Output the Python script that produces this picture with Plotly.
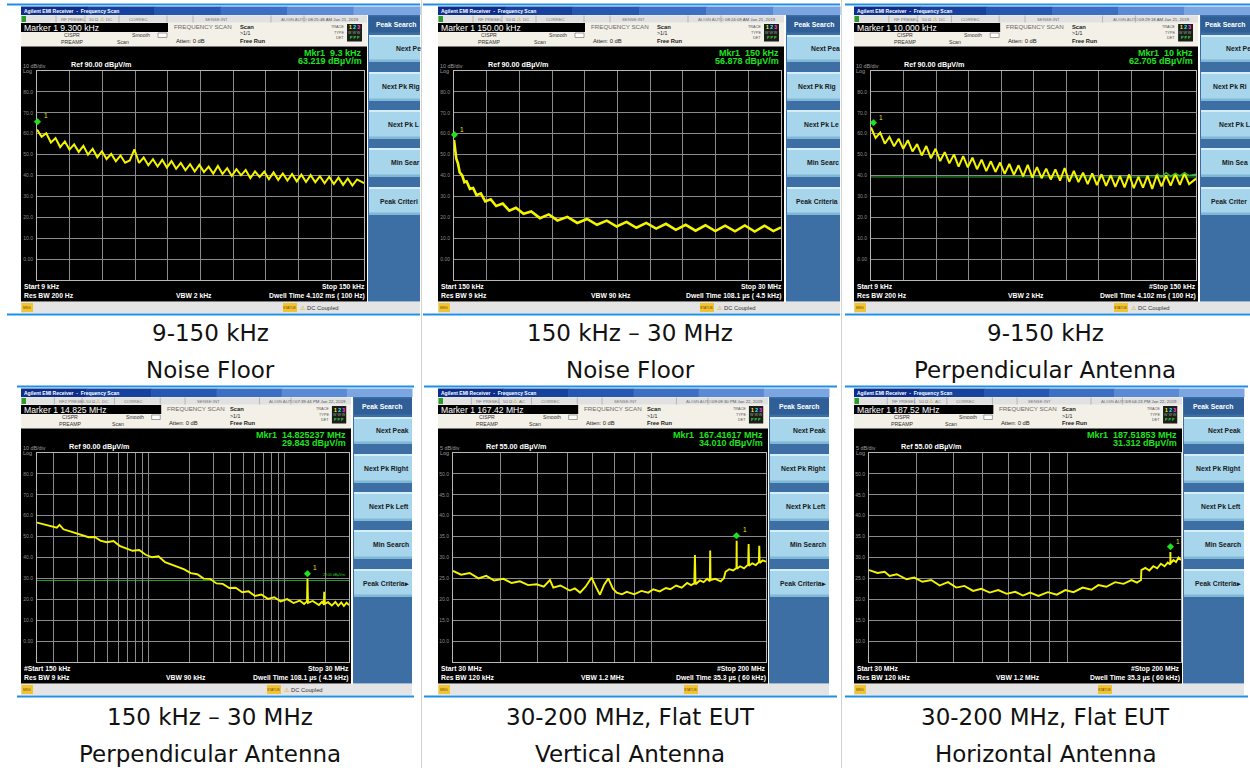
import math
import plotly.graph_objects as go

# ------------------------------------------------------------------ data
freq_9k_150k_khz = [9, 11, 13, 15, 17, 19, 21, 23, 25, 27, 29, 31, 33, 35, 37, 39, 41, 43, 45, 47,
                    49, 51, 53, 55, 57, 59, 61, 63, 65, 67, 69, 71, 73, 75, 77, 79, 81, 83, 85, 87,
                    89, 91, 93, 95, 97, 99, 101, 103, 105, 107, 109, 111, 113, 115, 117, 119, 121, 123, 125, 127,
                    129, 131, 133, 135, 137, 139, 141, 143, 145, 147, 150]
level_noise_floor_9k_150k = [62.0, 58.5, 60.2, 55.8, 57.9, 53.6, 56.3, 52.4, 54.9, 51.3,
                             54.2, 50.0, 52.8, 48.7, 51.6, 47.9, 50.3, 46.8, 49.6, 46.1,
                             47.2, 52.5, 46.0, 48.6, 44.9, 47.8, 44.3, 47.5, 43.8, 46.9,
                             43.2, 46.0, 42.5, 45.4, 41.9, 45.1, 41.6, 44.2, 40.9, 44.6,
                             40.7, 43.5, 39.8, 43.0, 40.1, 42.6, 38.7, 42.0, 39.3, 41.8,
                             38.2, 41.5, 37.9, 41.0, 37.6, 40.7, 37.2, 40.4, 36.9, 40.2,
                             36.8, 39.7, 36.3, 39.4, 35.9, 39.0, 35.5, 38.6, 35.2, 38.1,
                             36.3]
level_perp_9k_150k = [63.0, 58.0, 60.5, 55.2, 58.4, 54.0, 57.6, 52.8, 56.9, 51.5,
                      55.0, 49.6, 54.1, 48.2, 52.8, 46.9, 51.2, 45.8, 50.1, 44.2,
                      49.3, 43.9, 48.5, 43.0, 47.6, 42.1, 46.8, 41.7, 46.2, 40.8,
                      45.5, 40.3, 44.9, 39.6, 45.1, 39.0, 44.0, 38.7, 43.3, 38.1,
                      42.9, 37.5, 43.6, 37.0, 42.2, 36.8, 41.4, 35.9, 41.0, 35.4,
                      40.6, 35.0, 40.2, 34.6, 39.8, 34.3, 40.5, 33.9, 39.4, 34.2,
                      39.9, 33.6, 40.3, 34.8, 40.1, 35.2, 40.8, 35.5, 41.0, 35.9,
                      38.5]
freq_perp_trace2_khz = [133, 135, 137, 139, 141, 143, 145, 147, 150]
level_perp_trace2 = [40.9, 39.2, 41.3, 39.6, 41.0, 39.8, 41.4, 40.0, 40.6]

freq_noise_floor_150k_30m_mhz = [0.15, 0.25, 0.36, 0.5, 0.67, 0.9, 1.1, 1.3, 1.6, 1.9,
                                 2.2, 2.6, 3.0, 3.5, 4.0, 4.6, 5.2, 5.8, 6.5, 7.2,
                                 8.0, 8.8, 9.6, 10.5, 11.4, 12.3, 13.2, 14.1, 15.0, 15.9,
                                 16.8, 17.7, 18.6, 19.5, 20.4, 21.3, 22.2, 23.1, 24.0, 24.9,
                                 25.8, 26.7, 27.6, 28.5, 29.3, 30.0]
level_noise_floor_150k_30m = [57.0, 51.5, 48.0, 46.0, 41.5, 40.0, 36.8, 37.2, 33.6, 34.0,
                              30.6, 31.4, 27.6, 28.6, 25.4, 26.6, 23.2, 24.6, 21.7, 22.8,
                              19.6, 21.4, 18.5, 20.2, 17.3, 19.2, 16.4, 18.4, 15.6, 17.8,
                              15.0, 17.3, 14.6, 16.9, 14.0, 16.4, 13.6, 16.2, 13.4, 16.0,
                              13.3, 16.1, 13.2, 16.0, 13.4, 15.2]

freq_perp_150k_30m_mhz = [0.15, 0.17, 0.19, 0.21, 0.22, 0.235, 0.26, 0.29, 0.32, 0.36,
                          0.40, 0.44, 0.49, 0.55, 0.61, 0.68, 0.76, 0.85, 0.95, 1.06,
                          1.18, 1.32, 1.47, 1.64, 1.83, 2.04, 2.28, 2.54, 2.83, 3.16,
                          3.52, 3.93, 4.38, 4.89, 5.45, 6.08, 6.78, 7.56, 8.43, 9.4,
                          10.5, 11.7, 13.0, 14.0, 14.7, 14.825, 14.95, 16.2, 18.0, 19.0,
                          19.6, 19.7, 19.8, 21.0, 22.4, 23.8, 25.0, 26.3, 27.5, 28.8,
                          30.0]
level_perp_150k_30m = [56.7, 55.9, 55.1, 54.3, 55.6, 53.5, 52.6, 51.5, 50.8, 49.7,
                       49.8, 48.1, 47.3, 47.9, 45.6, 44.5, 43.2, 43.6, 41.3, 40.1,
                       40.6, 37.8, 36.6, 35.2, 34.3, 32.5, 32.0, 29.9, 29.8, 27.6,
                       27.4, 25.4, 25.5, 23.4, 23.8, 21.6, 22.3, 20.2, 21.0, 19.0,
                       20.1, 18.2, 19.4, 17.8, 19.0, 29.8, 18.3, 19.2, 17.3, 18.8,
                       17.5, 23.6, 17.8, 18.6, 17.0, 18.7, 16.9, 18.5, 16.8, 18.4,
                       17.2]

freq_vert_30m_200m_mhz = [30, 31.5, 33.2, 35.0, 36.7, 38.5, 40.7, 42.8, 45.0, 47.3,
                          49.8, 52.0, 54.0, 55.1, 57.5, 60.9, 62.8, 64.8, 67.0, 69.5,
                          71.5, 73.1, 75.0, 76.9, 79.0, 80.9, 83.5, 86.0, 90.0, 94.0,
                          98.0, 101, 105, 109, 112, 116, 120, 124, 127, 129.5,
                          130, 130.5, 134, 137, 140, 142.3, 142.6, 142.9, 147, 152,
                          155, 156.5, 160, 164, 167.2, 167.42, 167.6, 171, 175, 179.5,
                          180, 180.5, 184, 188, 191.5, 192, 192.5, 196, 200]
level_vert_30m_200m = [26.8, 25.9, 26.3, 25.0, 25.6, 24.5, 24.9, 23.9, 24.3, 23.4,
                       23.6, 23.0, 24.6, 22.8, 23.3, 22.1, 22.6, 21.6, 23.0, 25.2,
                       22.8, 21.1, 23.5, 25.0, 22.6, 21.6, 21.2, 21.8, 21.2, 22.0,
                       21.6, 22.4, 21.9, 22.7, 22.4, 23.3, 22.8, 23.9, 23.4, 23.8,
                       30.6, 23.6, 24.5, 24.1, 24.9, 24.3, 31.7, 24.6, 24.9, 24.3,
                       25.1, 26.6, 27.2, 26.9, 27.5, 34.0, 27.3, 27.9, 27.4, 28.3,
                       33.2, 28.0, 28.6, 28.2, 28.9, 32.8, 28.7, 29.3, 29.0]

freq_horiz_30m_200m_mhz = [30, 31.6, 33.0, 34.0, 35.5, 37.7, 39.5, 41.5, 43.8, 46.1,
                           48.5, 51.0, 53.6, 56.5, 59.4, 62.5, 65.8, 69.3, 73.0, 76.5,
                           79.9, 84.0, 89.0, 94.0, 99.0, 104, 110, 116, 121, 127,
                           134, 141, 148, 153, 156.8, 157.2, 161, 165, 169, 173,
                           177, 181, 184.5, 187.4, 187.52, 187.65, 191, 194, 197, 200]
level_horiz_30m_200m = [27.0, 26.3, 26.6, 25.6, 26.0, 24.8, 25.2, 24.2, 24.6, 23.3,
                        24.1, 22.8, 23.2, 22.0, 22.5, 21.6, 22.2, 21.3, 21.8, 20.9,
                        21.6, 20.8, 21.7, 21.1, 22.2, 21.7, 22.8, 22.3, 23.4, 23.0,
                        24.1, 23.7, 24.6, 24.0, 24.6, 27.0, 27.5, 26.9, 27.9, 27.4,
                        28.5, 27.9, 28.8, 28.3, 31.3, 28.6, 29.4, 28.9, 30.0, 29.4]

marker_freq = [9.3, 0.15, 10.0, 14.825237, 167.41617, 187.51853]
marker_level = [63.219, 56.878, 62.705, 29.843, 34.010, 31.312]
display_line_level = [None, None, 39.3, 29.0, None, None]

x_start = [9, 0.15, 9, 0.15, 30, 30]
x_stop = [150, 30, 150, 30, 200, 200]
ref_level = [90, 90, 90, 90, 55, 55]
db_per_div = [10, 10, 10, 10, 5, 5]
log_x = [False, False, False, True, True, True]
log_grid_150k_30m = [0.2, 0.3, 0.4, 0.5, 0.6, 0.7, 0.8, 0.9, 1, 2, 3, 4, 5, 6, 7, 8, 9, 10, 20]
log_grid_30m_200m = [40, 50, 60, 70, 80, 90, 100]

caption_line1 = ["9-150 kHz", "150 kHz \u2013 30 MHz", "9-150 kHz",
                 "150 kHz \u2013 30 MHz", "30-200 MHz, Flat EUT", "30-200 MHz, Flat EUT"]
caption_line2 = ["Noise Floor", "Noise Floor", "Perpendicular Antenna",
                 "Perpendicular Antenna", "Vertical Antenna", "Horizontal Antenna"]
marker_readout = ["Marker 1 9.300 kHz", "Marker 1 150.00 kHz", "Marker 1 10.000 kHz",
                  "Marker 1 14.825 MHz", "Marker 1 167.42 MHz", "Marker 1 187.52 MHz"]
mkr_freq_text = ["Mkr1\u00a0 9.3 kHz", "Mkr1\u00a0 150 kHz", "Mkr1\u00a0 10 kHz",
                 "Mkr1\u00a0 14.825237 MHz", "Mkr1\u00a0 167.41617 MHz", "Mkr1\u00a0 187.51853 MHz"]
mkr_level_text = ["63.219 dB\u00b5V/m", "56.878 dB\u00b5V/m", "62.705 dB\u00b5V/m",
                  "29.843 dB\u00b5V/m", "34.010 dB\u00b5V/m", "31.312 dB\u00b5V/m"]
scale_text = ["10 dB/div", "10 dB/div", "10 dB/div", "10 dB/div", "5 dB/div", "5 dB/div"]
ref_text = ["Ref 90.00 dB\u00b5V/m"] * 4 + ["Ref 55.00 dB\u00b5V/m"] * 2
start_text = ["Start 9 kHz", "Start 150 kHz", "Start 9 kHz", "#Start 150 kHz", "Start 30 MHz", "Start 30 MHz"]
stop_text = ["Stop 150 kHz", "Stop 30 MHz", "#Stop 150 kHz", "Stop 30 MHz", "#Stop 200 MHz", "#Stop 200 MHz"]
rbw_text = ["Res BW 200 Hz", "Res BW 9 kHz", "Res BW 200 Hz", "Res BW 9 kHz", "Res BW 120 kHz", "Res BW 120 kHz"]
vbw_text = ["VBW 2 kHz", "VBW 90 kHz", "VBW 2 kHz", "VBW 90 kHz", "VBW 1.2 MHz", "VBW 1.2 MHz"]
dwell_text = ["Dwell Time 4.102 ms ( 100 Hz)", "Dwell Time 108.1 \u00b5s ( 4.5 kHz)",
              "Dwell Time 4.102 ms ( 100 Hz)", "Dwell Time 108.1 \u00b5s ( 4.5 kHz)",
              "Dwell Time 35.3 \u00b5s ( 60 kHz)", "Dwell Time 35.3 \u00b5s ( 60 kHz)"]
timestamp_text = ["08:25:48 AM Jan 21, 2019", "08:24:09 AM Jan 21, 2019", "09:29:18 AM Jan 21, 2019",
                  "07:39:44 PM Jan 22, 2019", "09:09:30 PM Jan 22, 2019", "09:04:23 PM Jan 22, 2019"]
coupling_text = ["DC", "DC", "DC", "DC", "AC", "AC"]
status_msg = ["DC Coupled", "DC Coupled", "DC Coupled", "DC Coupled", "", ""]
softkey_labels = ["Next Peak", "Next Pk Right", "Next Pk Left", "Min Search", "Peak Criteria\u25b8"]

series = [
    (freq_9k_150k_khz, level_noise_floor_9k_150k),
    (freq_noise_floor_150k_30m_mhz, level_noise_floor_150k_30m),
    (freq_9k_150k_khz, level_perp_9k_150k),
    (freq_perp_150k_30m_mhz, level_perp_150k_30m),
    (freq_vert_30m_200m_mhz, level_vert_30m_200m),
    (freq_horiz_30m_200m_mhz, level_horiz_30m_200m),
]

# ------------------------------------------------------------------ layout geometry (pixels)
W, H = 1250, 768
SF = "Liberation Sans"
CF = "DejaVu Sans"
BLUE = "#1f8fe5"
TRACE_YELLOW = "#f4f400"
MKR_GREEN = "#21e021"

PANELS = [
    dict(yo=0, fl=7, fr=420, sl=21, bx1=367, kx0=368, kx1=420, gx0=37, gx1=364, cx=210, cap=(333, 370),
         clip=[("Next Pe", 395), ("Next Pk Rig", 381), ("Next Pk L", 387), ("Min Sear", 390), ("Peak Criteri", 379)], ps=396),
    dict(yo=0, fl=423, fr=840, sl=438, bx1=784, kx0=786, kx1=840, gx0=454, gx1=781, cx=630, cap=(333, 370),
         clip=[("Next Pea", 810), ("Next Pk Rig", 797), ("Next Pk Le", 803), ("Min Searc", 806), ("Peak Criteria", 795)], ps=814),
    dict(yo=0, fl=845, fr=1250, sl=854, bx1=1198, kx0=1200, kx1=1250, gx0=871, gx1=1196, cx=1045, cap=(333, 370),
         clip=[("Next Pe", 1225), ("Next Pk Ri", 1212), ("Next Pk L", 1218), ("Min Sea", 1221), ("Peak Criter", 1210)], ps=1225),
    dict(yo=382, fl=17, fr=414, sl=21, bx1=351, kx0=353, kx1=412, gx0=37, gx1=349, cx=210, cap=(717, 754), clip=None, ps=382),
    dict(yo=382, fl=424, fr=837, sl=438, bx1=768, kx0=769, kx1=829, gx0=453, gx1=766, cx=630, cap=(717, 754), clip=None, ps=799),
    dict(yo=382, fl=845, fr=1248, sl=854, bx1=1182, kx0=1183, kx1=1244, gx0=869, gx1=1181, cx=1045, cap=(717, 754), clip=None, ps=1213),
]
GY0, GY1 = 71, 280
KEY_ROWS = [(35, 62), (72, 101), (110, 139), (148, 177), (187, 215)]

shapes, annots = [], []


def X(px):
    return px / W


def Y(py):
    return 1 - py / H


def rect(x0, y0, x1, y1, fill, lc=None, lw=0):
    shapes.append(dict(type="rect", xref="paper", yref="paper", x0=X(x0), x1=X(x1), y0=Y(y1), y1=Y(y0),
                       fillcolor=fill, line=dict(width=lw, color=lc or fill), layer="below"))


def vline(x, y0, y1, color, w=1):
    shapes.append(dict(type="line", xref="paper", yref="paper", x0=X(x), x1=X(x), y0=Y(y0), y1=Y(y1),
                       line=dict(color=color, width=w), layer="below"))


def txt(x, y, s, size, color, anchor="left", bold=False, family=SF):
    if bold:
        s = "<b>%s</b>" % s
    annots.append(dict(xref="paper", yref="paper", x=X(x), y=Y(y), text=s, showarrow=False,
                       xanchor=anchor, yanchor="middle", borderpad=0,
                       font=dict(family=family, size=size, color=color)))


def screen(i, p):
    yo, sl, bx1, kx0, kx1 = p["yo"], p["sl"], p["bx1"], p["kx0"], p["kx1"]
    s = (bx1 - sl) / 346.0

    def hx(r):
        return sl + r * s

    # window frame lines
    rect(p["fl"], yo + 3.5, p["fr"], yo + 5.5, BLUE)
    rect(p["fl"], yo + 313.5, p["fr"], yo + 315.5, BLUE)
    # title bar (approximate gradient)
    cols = ["#0b2e8c", "#15429e", "#2457b2", "#3a6fc4", "#5a8ad4", "#7ba6e2"]
    step = (kx1 - sl) / len(cols)
    for k, c in enumerate(cols):
        rect(sl + k * step, yo + 6.5, sl + (k + 1) * step + 0.5, yo + 15, c)
    txt(sl + 2, yo + 10.8, "Agilent EMI Receiver\u00a0 -\u00a0 Frequency Scan", 5, "white", bold=True)
    # header
    rect(sl, yo + 15, bx1, yo + 46.5, "#f3f0e8")
    rect(sl, yo + 15.5, bx1, yo + 22.5, "#e1e1e1")
    rect(sl + 0.5, yo + 16, sl + 5, yo + 22, "#2d9a2d")
    for r in (35, 64, 98, 146, 172, 250, 283):
        vline(hx(r), yo + 15.5, yo + 22.5, "#b5b5b5")
    st = [(39, "RF PRESEL" if i != 3 else "RF2 PRESEL"), (67, "50 \u03a9"), (84, coupling_text[i]),
          (107, "CORREC"), (183, "SENSE:INT"), (259, "ALIGN AUTO")]
    for r, t in st:
        txt(hx(r), yo + 19, t, 4.3, "#777777")
    txt(hx(78), yo + 19, "\u26a0", 4.5, "#d6a000")
    txt(hx(286), yo + 19, timestamp_text[i], 4.3, "#555555")
    # marker readout box
    rect(sl, yo + 23, hx(147), yo + 32, "#000000")
    txt(sl + 2, yo + 27.6, marker_readout[i], 8.6, "white")
    txt(hx(152), yo + 26.5, "FREQUENCY SCAN", 6.2, "#6a6a6a")
    txt(hx(218), yo + 26.5, "Scan", 5.8, "#222222", bold=True)
    txt(hx(218), yo + 33.5, ">1/1", 5.3, "#222222")
    txt(hx(218), yo + 41, "Free Run", 5.8, "#222222", bold=True)
    txt(hx(154), yo + 41, "Atten: 0 dB", 5.8, "#222222")
    txt(hx(51), yo + 35, "CISPR", 5.2, "#333333", anchor="center")
    txt(hx(51), yo + 41.5, "PREAMP", 5.2, "#333333", anchor="center")
    txt(hx(120), yo + 35, "Smooth", 5.2, "#333333", anchor="center")
    txt(hx(102), yo + 41.5, "Scan", 5.2, "#333333", anchor="center")
    rect(hx(137), yo + 33, hx(146), yo + 37.5, "#ffffff", lc="#666666", lw=0.6)
    txt(hx(324), yo + 27, "TRACE", 3.8, "#555555", anchor="right")
    txt(hx(324), yo + 32.5, "TYPE", 3.8, "#555555", anchor="right")
    txt(hx(324), yo + 38, "DET", 3.8, "#555555", anchor="right")
    rect(hx(326), yo + 24, hx(341), yo + 41.5, "#1c1c1c")
    txt(hx(333.5), yo + 27.5, "<span style='color:#ffff33'>1</span> <span style='color:#33ffff'>2</span> "
        "<span style='color:#ff44ff'>3</span>", 5, "#ffffff", anchor="center", bold=True)
    txt(hx(333.5), yo + 33, "W W W", 3.6, "#8fb08f", anchor="center")
    txt(hx(333.5), yo + 38.3, "P P P", 3.8, "#33dd33", anchor="center", bold=True)
    # black display area
    rect(sl, yo + 46.5, bx1, yo + 301.5, "#000000")
    txt(bx1 - 4, yo + 53, mkr_freq_text[i], 9, MKR_GREEN, anchor="right", bold=True)
    txt(bx1 - 4, yo + 61.3, mkr_level_text[i], 9, MKR_GREEN, anchor="right", bold=True)
    txt(sl + 1, yo + 65.5, scale_text[i], 5.4, "#9a9a9a")
    txt(sl + 1, yo + 70.8, "Log", 5.4, "#9a9a9a")
    txt(hx(49), yo + 64.8, ref_text[i], 7.2, "#ffffff", bold=True)
    txt(sl + 2, yo + 286.5, start_text[i], 6.8, "#ffffff", bold=True)
    txt(bx1 - 1, yo + 286.5, stop_text[i], 6.8, "#ffffff", anchor="right", bold=True)
    txt(sl + 2, yo + 295.5, rbw_text[i], 6.8, "#ffffff", bold=True)
    txt(hx(173), yo + 295.5, vbw_text[i], 6.8, "#ffffff", anchor="center", bold=True)
    txt(bx1 - 1, yo + 295.5, dwell_text[i], 6.8, "#ffffff", anchor="right", bold=True)
    # message bar
    rect(sl, yo + 302, kx1, yo + 313, "#e4e4e4")
    rect(sl + 0.5, yo + 303, sl + 12, yo + 312, "#f2c230")
    txt(sl + 6.2, yo + 307.5, "MSG", 3.4, "#6a4a00", anchor="center")
    rect(bx1 - 84, yo + 303, bx1 - 70, yo + 312, "#f2c230")
    txt(bx1 - 77, yo + 307.5, "STATUS", 3.4, "#6a4a00", anchor="center")
    if status_msg[i]:
        txt(bx1 - 68, yo + 307.5, "\u26a0", 6, "#d6a000")
        txt(bx1 - 61, yo + 307.5, status_msg[i], 5.8, "#333333")
    # softkeys
    rect(kx0, yo + 15, kx1, yo + 301.5, "#3d6fa4")
    rect(kx0 + 1, yo + 16.5, kx1, yo + 32.5, "#2f5f96")
    txt(p["ps"], yo + 24.5, "Peak Search", 6.8, "#ffffff", anchor="center", bold=True)
    for k, (a, b) in enumerate(KEY_ROWS):
        rect(kx0 + 1, yo + a, kx1, yo + b, "#a6d5ec")
        rect(kx0 + 1, yo + a, kx1, yo + a + 2, "#d6eef9")
        rect(kx0 + 1, yo + b - 2.5, kx1, yo + b, "#7fb7d6")
        yc = yo + (a + b) / 2.0
        if p["clip"]:
            lab, lx = p["clip"][k]
            txt(lx, yc, lab, 6.8, "#1a1a1a", bold=True)
        else:
            txt(kx1 - 2, yc, softkey_labels[k], 6.8, "#1a1a1a", anchor="right", bold=True)
    # caption
    txt(p["cx"], p["cap"][0], caption_line1[i], 23, "#111111", anchor="center", family=CF)
    txt(p["cx"], p["cap"][1], caption_line2[i], 23, "#111111", anchor="center", family=CF)


fig = go.Figure()
layout = dict(width=W, height=H, margin=dict(l=0, r=0, t=0, b=0), autosize=False,
              paper_bgcolor="white", plot_bgcolor="black", showlegend=False)

for i, p in enumerate(PANELS):
    screen(i, p)
    idx = i + 1
    xn = "x" if idx == 1 else "x%d" % idx
    yn = "y" if idx == 1 else "y%d" % idx
    xa = dict(domain=[X(p["gx0"]), X(p["gx1"])], anchor=yn, showgrid=True, gridcolor="#8a8a8a", gridwidth=1,
              showline=True, mirror=True, linecolor="#b8b8b8", linewidth=1, showticklabels=False,
              ticks="", zeroline=False, fixedrange=True)
    if log_x[i]:
        xa.update(type="log", range=[math.log10(x_start[i]), math.log10(x_stop[i])],
                  tickmode="array", tickvals=log_grid_150k_30m if x_stop[i] <= 30 else log_grid_30m_200m)
    else:
        xa.update(type="linear", range=[x_start[i], x_stop[i]], tickmode="linear",
                  tick0=x_start[i], dtick=(x_stop[i] - x_start[i]) / 10.0)
    top = ref_level[i]
    bottom = top - 10 * db_per_div[i]
    yvals = [top - k * db_per_div[i] for k in range(1, 10)]
    ya = dict(domain=[Y(p["yo"] + GY1), Y(p["yo"] + GY0)], anchor=xn, range=[bottom, top],
              tickmode="array", tickvals=yvals,
              ticktext=["0.00" if v == 0 else "%.1f" % v for v in yvals],
              showgrid=True, gridcolor="#8a8a8a", gridwidth=1, showline=True, mirror=True,
              linecolor="#b8b8b8", linewidth=1, ticks="", zeroline=False, fixedrange=True,
              tickfont=dict(family=SF, size=5, color="#8c8c8c"), ticklabelstandoff=2)
    layout["xaxis" if idx == 1 else "xaxis%d" % idx] = xa
    layout["yaxis" if idx == 1 else "yaxis%d" % idx] = ya

    fx, fy = series[i]
    lw = 2.6 if i == 1 else (2.0 if i in (0, 2) else 1.9)
    fig.add_trace(go.Scatter(x=fx, y=fy, xaxis=xn, yaxis=yn, mode="lines",
                             line=dict(color=TRACE_YELLOW, width=lw), hoverinfo="skip"))
    if i == 2:
        fig.add_trace(go.Scatter(x=freq_perp_trace2_khz, y=level_perp_trace2, xaxis=xn, yaxis=yn,
                                 mode="lines", line=dict(color="#2fb52f", width=1.4), hoverinfo="skip"))
    if display_line_level[i] is not None:
        shapes.append(dict(type="line", xref="%s domain" % xn, yref=yn, x0=0, x1=1,
                           y0=display_line_level[i], y1=display_line_level[i],
                           line=dict(color="#1f9f1f", width=1), layer="below"))
        if i == 3:
            annots.append(dict(xref="%s domain" % xn, yref=yn, x=0.995, y=display_line_level[i],
                               text="29.00 dB\u00b5V/m", showarrow=False, xanchor="right", yanchor="bottom",
                               yshift=1, font=dict(family=SF, size=3.5, color="#2fcf2f")))
    mx = math.log10(marker_freq[i]) if log_x[i] else marker_freq[i]
    annots.append(dict(xref=xn, yref=yn, x=mx, y=marker_level[i], text="\u25c6", showarrow=False,
                       xanchor="center", yanchor="middle", yshift=6,
                       font=dict(family="DejaVu Sans", size=9, color=MKR_GREEN)))
    annots.append(dict(xref=xn, yref=yn, x=mx, y=marker_level[i], text="1", showarrow=False,
                       xanchor="left", yanchor="middle", xshift=4, yshift=11,
                       font=dict(family=SF, size=6.5, color="#e6e62a")))

# table separators
vline(421.5, 0, 768, "#d2d2d2")
vline(841.5, 0, 768, "#d2d2d2")

layout["shapes"] = shapes
layout["annotations"] = annots
fig.update_layout(**layout)
fig.write_html("out.html", config={"displayModeBar": False},
               post_script="document.body.style.margin='0';document.body.style.overflow='hidden';")
